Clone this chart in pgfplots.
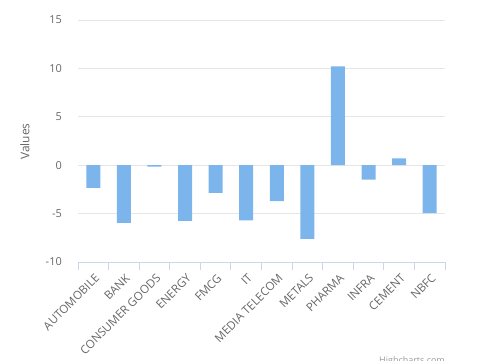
\documentclass[border=0pt]{standalone}
\usepackage{fontspec}
\setmainfont{Open Sans}
\usepackage{pgfplots}
\pgfplotsset{compat=1.18}
\definecolor{barblue}{HTML}{7CB5EC}
\definecolor{gridcol}{HTML}{E6E6E6}
\definecolor{axiscol}{HTML}{CCD6EB}
\definecolor{textcol}{HTML}{666666}
\definecolor{creditcol}{HTML}{999999}
\begin{document}
\begin{tikzpicture}[x=1bp,y=1bp]
\useasboundingbox (0,0) rectangle (485,360);
\begin{axis}[
  at={(78bp,98bp)}, anchor=south west,
  scale only axis, width=367bp, height=242bp,
  xmin=-0.5, xmax=11.5, ymin=-10, ymax=15,
  axis line style={draw=none},
  ytick={-10,-5,0,5,10,15},
  yticklabels={-10,-5,0,5,10,15},
  ymajorgrids, grid style={gridcol, line width=1bp},
  xtick={0,...,11},
  xticklabels={AUTOMOBILE,BANK,CONSUMER GOODS,ENERGY,FMCG,IT,MEDIA TELECOM,METALS,PHARMA,INFRA,CEMENT,NBFC},
  minor xtick={-0.5,0.5,...,11.5},
  major tick length=0pt, minor tick length=8bp,
  tick align=outside, xtick pos=bottom, ytick pos=left,
  minor tick style={axiscol, line width=1bp},
  major tick style={draw=none},
  xticklabel style={xshift=4bp, yshift=-14bp, rotate=45, anchor=east, inner sep=0pt, font=\fontsize{11.6}{13}\selectfont, text=textcol},
  yticklabel style={anchor=east, inner sep=0pt, xshift=-16bp, font=\fontsize{11}{13}\selectfont, text=textcol},
]
\addplot[ybar, bar width=14bp, fill=barblue, draw=none] coordinates {
  (0,-2.35) (1,-5.95) (2,-0.15) (3,-5.75) (4,-2.85) (5,-5.7)
  (6,-3.7) (7,-7.6) (8,10.2) (9,-1.5) (10,0.7) (11,-4.95)
};
\draw[axiscol, line width=1bp] (rel axis cs:0,0) -- (rel axis cs:1,0);
\end{axis}
\node[rotate=90, font=\fontsize{12}{14}\selectfont, text=textcol] at (25,218.5) {Values};
\node[anchor=north east, inner sep=0pt, font=\fontsize{9}{11}\selectfont, text=creditcol] at (445,4) {Highcharts.com};
\end{tikzpicture}
\end{document}
